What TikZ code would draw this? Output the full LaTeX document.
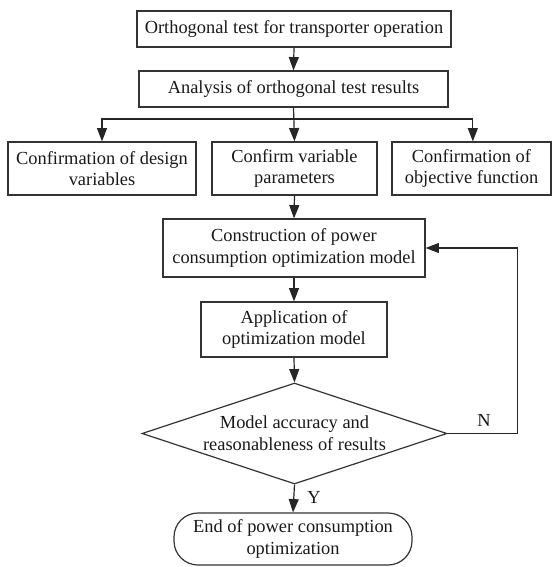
\documentclass[tikz,border=0pt]{standalone}
\usepackage{fontspec}
\setmainfont{Liberation Serif}
\usetikzlibrary{shapes.geometric,arrows.meta}
\begin{document}
\begin{tikzpicture}[x=0.75pt,y=-0.75pt,
  every node/.style={font=\fontsize{13.8}{16.3}\selectfont, text=black!90},
  box/.style={draw=black!80, line width=0.9pt, align=center, inner sep=0pt},
  dec/.style={draw=black!80, line width=0.9pt, align=center, diamond, aspect=3, inner sep=0pt},
  term/.style={draw=black!80, line width=0.9pt, align=center, rounded corners=18pt, inner sep=0pt},
  arr/.style={draw=black!85, line width=0.9pt, -{Triangle[length=10pt,width=7.5pt]}},
  ln/.style={draw=black!85, line width=0.9pt}]
\useasboundingbox (0,0) rectangle (552,567);
\node[box, minimum width=235.5pt, minimum height=27pt] (b1) at (294,29) {Orthogonal test for transporter operation};
\node[box, minimum width=231.75pt, minimum height=27pt] (b2) at (293.5,89) {Analysis of orthogonal test results};
\node[box, minimum width=141pt, minimum height=39.75pt] (b3a) at (102,168.5) {Confirmation of design\\variables};
\node[box, minimum width=123.75pt, minimum height=39.75pt] (b3b) at (294.5,168.5) {Confirm variable\\parameters};
\node[box, minimum width=119.25pt, minimum height=39.75pt] (b3c) at (471.5,168.5) {Confirmation of\\objective function};
\node[box, minimum width=196.5pt, minimum height=43.5pt] (b4) at (294,248) {Construction of power\\consumption optimization model};
\node[box, minimum width=139.5pt, minimum height=41.25pt] (b5) at (294,329.5) {Application of\\optimization model};
\node[dec, minimum width=228.75pt, minimum height=75.75pt] (dia) at (294.5,433.5) {Model accuracy and\\reasonableness of results};
\node[term, minimum width=178.5pt, minimum height=39pt] (end) at (293,539) {End of power consumption\\optimization};
\node (nlab) at (484,420) {N};
\node (ylab) at (314,497) {Y};
\coordinate (br) at (294,119);
\draw[arr] (b1.south) -- (b2.north);
\draw[arr] (b2.south) -- (b3b.north);
\draw[arr] (br) -| (b3a.north);
\draw[arr] (br) -| ([xshift=1pt]b3c.north);
\draw[arr] (b3b.south) -- (b4.north);
\draw[arr] (b4.south) -- (b5.north);
\draw[arr] (b5.south) -- (dia.north);
\draw[arr] (dia.south) -- (end.north);
\draw[arr] (dia.east) -- ++(70,0) |- (b4.east);
\end{tikzpicture}
\end{document}
